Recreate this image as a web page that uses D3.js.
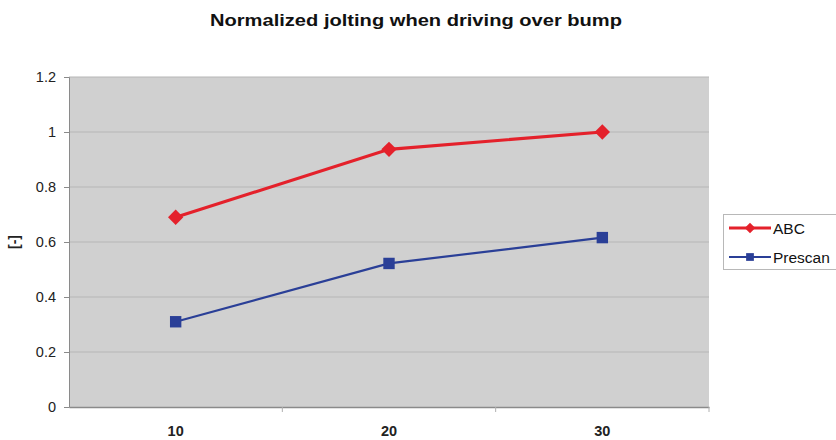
<!DOCTYPE html>
<html><head><meta charset="utf-8">
<script src="https://cdn.jsdelivr.net/npm/d3@7"></script>
<style>body{margin:0;background:#fff}text{font-family:"Liberation Sans",Arial,sans-serif}</style>
</head><body><svg id="c" width="836" height="440"></svg>
<script>
const categories = ["10","20","30"];
const abc = [0.69, 0.937, 1.0];
const prescan = [0.31, 0.522, 0.616];
const yTicks = [0, 0.2, 0.4, 0.6, 0.8, 1, 1.2];
const seriesNames = ["ABC","Prescan"];
const colors = ["#e4212b","#2a3f97"];

const svg = d3.select("#c");
const m = {l:69, r:709, t:77, b:407};
const x = d3.scaleBand().domain(categories).range([m.l, m.r]);
const y = d3.scaleLinear().domain([0,1.2]).range([m.b, m.t]);

svg.append("text").attr("x",416).attr("y",26).attr("text-anchor","middle")
  .attr("font-size",17).attr("font-weight","bold").attr("fill","#111")
  .attr("textLength",412).attr("lengthAdjust","spacingAndGlyphs")
  .text("Normalized jolting when driving over bump");

svg.append("rect").attr("x",m.l).attr("y",m.t).attr("width",m.r-m.l).attr("height",m.b-m.t).attr("fill","#d0d0d0");

svg.append("g").selectAll("line").data(yTicks.filter(d=>d>0)).join("line")
  .attr("x1",m.l).attr("x2",m.r).attr("y1",d=>y(d)).attr("y2",d=>y(d))
  .attr("stroke","#b6b6b6").attr("stroke-width",1);

const ya = svg.append("g").attr("transform",`translate(${m.l},0)`)
  .call(d3.axisLeft(y).tickValues(yTicks).tickSize(5).tickPadding(8).tickFormat(d=>String(d)));
ya.select(".domain").attr("stroke","#8a8a8a");
ya.selectAll(".tick line").attr("stroke","#8a8a8a");
ya.selectAll("text").attr("font-size",14.5).attr("fill","#222").attr("font-family","Liberation Sans, Arial, sans-serif");

const xa = svg.append("g").attr("transform",`translate(0,${m.b})`)
  .call(d3.axisBottom(x).tickSize(0).tickPadding(19));
xa.select(".domain").attr("stroke","#8a8a8a").attr("stroke-width",1.5);
xa.selectAll("text").attr("font-size",14.5).attr("font-weight","bold").attr("fill","#222").attr("font-family","Liberation Sans, Arial, sans-serif");
// category boundary ticks
const bounds = categories.slice(1).map(c=>x(c)).concat([m.r]);
svg.append("g").selectAll("line").data(bounds).join("line")
  .attr("x1",d=>d).attr("x2",d=>d).attr("y1",m.b).attr("y2",m.b+5).attr("stroke","#b0b0b0");

svg.append("text").attr("transform","translate(19,242) rotate(-90)").attr("text-anchor","middle")
  .attr("font-size",14).attr("font-weight","bold").attr("fill","#222").text("[-]");

const cx = c => x(c)+x.bandwidth()/2;
const line = d3.line().x((d,i)=>cx(categories[i])).y(d=>y(d));
const diamond = d3.symbol().type(d3.symbolDiamond2).size(150);
const square = d3.symbol().type(d3.symbolSquare).size(130);

svg.append("path").datum(abc).attr("d",line).attr("fill","none").attr("stroke",colors[0]).attr("stroke-width",3.2);
svg.append("g").selectAll("path").data(abc).join("path")
  .attr("transform",(d,i)=>`translate(${cx(categories[i])},${y(d)})`).attr("d",diamond).attr("fill",colors[0]);

svg.append("path").datum(prescan).attr("d",line).attr("fill","none").attr("stroke",colors[1]).attr("stroke-width",2.2);
svg.append("g").selectAll("path").data(prescan).join("path")
  .attr("transform",(d,i)=>`translate(${cx(categories[i])},${y(d)})`).attr("d",square).attr("fill",colors[1]);

// legend
const lg = svg.append("g");
lg.append("rect").attr("x",723.5).attr("y",214.5).attr("width",120).attr("height",55).attr("fill","#fff").attr("stroke","#b8b8b8");
const ly = [228, 257];
seriesNames.forEach((n,i)=>{
  lg.append("line").attr("x1",729).attr("x2",771).attr("y1",ly[i]).attr("y2",ly[i]).attr("stroke",colors[i]).attr("stroke-width",i?2:3);
  lg.append("path").attr("transform",`translate(750,${ly[i]})`).attr("d",i?d3.symbol().type(d3.symbolSquare).size(60)():d3.symbol().type(d3.symbolDiamond2).size(70)()).attr("fill",colors[i]);
  lg.append("text").attr("x",773).attr("y",ly[i]+5.5).attr("font-size",15.5).attr("fill","#111").text(n);
});
</script></body></html>
